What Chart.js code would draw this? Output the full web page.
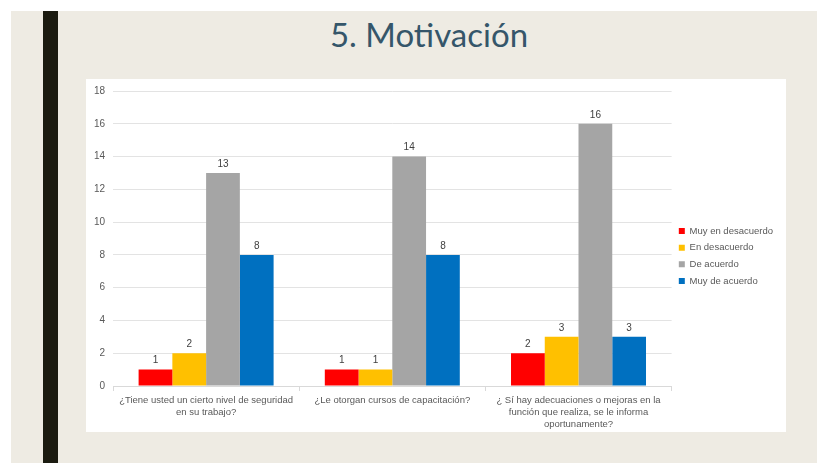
<!DOCTYPE html>
<html><head><meta charset="utf-8">
<script src="https://cdn.jsdelivr.net/npm/chart.js@4/dist/chart.umd.min.js"></script>
<style>
html,body{margin:0;padding:0;background:#fff;width:817px;height:463px;overflow:hidden;}
#bg{position:absolute;left:11px;top:11px;width:806px;height:452px;background:#EEEBE3;}
#bar{position:absolute;left:43px;top:11px;width:15px;height:452px;background:#1B1B10;}
#title{position:absolute;left:79px;width:700px;top:14px;text-align:center;font-family:Lato,"Open Sans",sans-serif;font-size:33px;color:#35566A;}
#panel{position:absolute;left:86px;top:79px;width:700px;height:353px;background:#fff;}
canvas{position:absolute;left:86px;top:77px;}
</style></head><body>
<div id="bg"></div><div id="bar"></div>
<div id="title">5. Motivación</div>
<div id="panel"></div>
<canvas id="c" width="700" height="355"></canvas>
<script>
const categories = [
  ["¿Tiene usted un cierto nivel de seguridad", "en su trabajo?"],
  ["¿Le otorgan cursos de capacitación?"],
  ["¿ Sí hay adecuaciones o mejoras en la", "función que realiza, se le informa", "oportunamente?"]
];
const seriesNames = ["Muy en desacuerdo", "En desacuerdo", "De acuerdo", "Muy de acuerdo"];
const muyEnDesacuerdo = [1, 1, 2];
const enDesacuerdo = [2, 1, 3];
const deAcuerdo = [13, 14, 16];
const muyDeAcuerdo = [8, 8, 3];
const colors = ["#FF0000", "#FFC000", "#A5A5A5", "#0070C0"];
const values = [muyEnDesacuerdo, enDesacuerdo, deAcuerdo, muyDeAcuerdo];

const labelPlugin = {
  id: 'barLabels',
  afterLayout(chart) {
    if (chart.legend) { chart.legend.top -= 3; chart.legend.bottom -= 3; }
  },
  afterDatasetsDraw(chart) {
    const ctx = chart.ctx;
    ctx.save();
    ctx.font = '10px "Liberation Sans", Arial, sans-serif';
    ctx.fillStyle = '#404040';
    ctx.textAlign = 'center';
    ctx.textBaseline = 'bottom';
    chart.data.datasets.forEach((ds, i) => {
      chart.getDatasetMeta(i).data.forEach((bar, j) => {
        ctx.fillText(String(ds.data[j]), bar.x, bar.y - 4);
      });
    });
    ctx.restore();
  }
};

new Chart(document.getElementById('c'), {
  type: 'bar',
  data: {
    labels: categories,
    datasets: values.map((v, i) => ({
      label: seriesNames[i],
      data: v,
      backgroundColor: colors[i],
      borderWidth: 0,
      categoryPercentage: 0.725,
      barPercentage: 1.0
    }))
  },
  options: {
    responsive: false,
    animation: false,
    layout: { padding: { top: 9, left: 0, right: 3, bottom: 0 } },
    plugins: {
      legend: {
        position: 'right',
        labels: {
          boxWidth: 6, boxHeight: 6, padding: 7.2,
          color: '#595959',
          font: { size: 9.5, family: '"Liberation Sans", Arial, sans-serif' }
        }
      },
      tooltip: { enabled: false }
    },
    scales: {
      x: {
        grid: { display: true, drawOnChartArea: false, offset: true, tickLength: 5, color: '#D9D9D9' },
        border: { display: true, color: '#D9D9D9' },
        ticks: { color: '#595959', maxRotation: 0, autoSkip: false, padding: 3,
          font: { size: 9.5, family: '"Liberation Sans", Arial, sans-serif', lineHeight: 1.27 } },
        afterFit(s) { s.height = 46; }
      },
      y: {
        min: 0, max: 18,
        ticks: { stepSize: 2, color: '#595959', padding: 8,
          font: { size: 10, family: '"Liberation Sans", Arial, sans-serif' } },
        grid: { color: '#E3E3E3', drawTicks: false },
        border: { display: false },
        afterFit(s) { s.width = 27; }
      }
    }
  },
  plugins: [labelPlugin]
});
</script>
</body></html>
